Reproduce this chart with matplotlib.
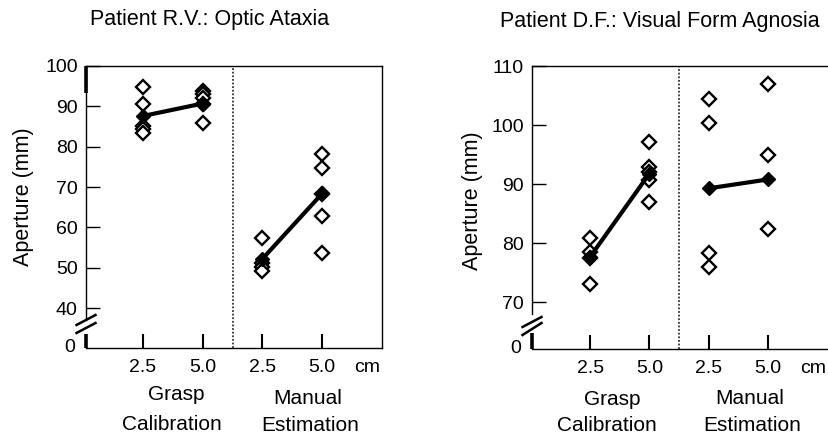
import matplotlib
matplotlib.use("Agg")
import matplotlib.pyplot as plt
from matplotlib.lines import Line2D

plt.rcParams['font.family'] = ['Liberation Sans', 'DejaVu Sans']

# x positions: grasp 2.5, grasp 5.0, manual 2.5, manual 5.0
positions = [1, 2, 3, 4]
size_labels = ["2.5", "5.0", "2.5", "5.0"]

# Patient R.V. (optic ataxia): individual trials and means
rv_grasp_25 = [94.8, 90.7, 85.1, 84.3, 83.4]
rv_grasp_50 = [93.9, 93.0, 92.1, 90.6, 85.9]
rv_manual_25 = [57.3, 51.2, 50.1, 49.1]
rv_manual_50 = [78.2, 74.8, 68.2, 62.8, 53.7]
rv_mean_grasp = [87.6, 90.7]
rv_mean_manual = [52.2, 68.4]

# Patient D.F. (visual form agnosia)
df_grasp_25 = [80.9, 78.5, 77.5, 73.1]
df_grasp_50 = [97.1, 92.9, 92.0, 90.7, 87.0]
df_manual_25 = [104.4, 100.3, 78.4, 76.0]
df_manual_50 = [106.9, 94.9, 82.4]
df_mean_grasp = [77.7, 91.8]
df_mean_manual = [89.3, 90.8]

W, H = 829, 436
fig = plt.figure(figsize=(W / 100, H / 100), dpi=100)

TICK_FS = 14
LABEL_FS = 15


def px_box(x0, y0, x1, y1):
    return [x0 / W, 1 - y1 / H, (x1 - x0) / W, (y1 - y0) / H]


def draw_panel(ax, xlim, singles, means_g, means_m, ylim, yticks, spine_top, bottom_thick, top_thick=None):
    ax.set_xlim(*xlim)
    ax.set_ylim(*ylim)
    for x, vals in zip(positions, singles):
        ax.plot([x] * len(vals), vals, linestyle="none", marker="D", ms=7.5,
                mfc="white", mec="black", mew=1.7, zorder=3)
    ax.plot(positions[:2], means_g, color="black", lw=3, marker="D", ms=7.5,
            mfc="black", mec="black", zorder=4)
    ax.plot(positions[2:], means_m, color="black", lw=3, marker="D", ms=7.5,
            mfc="black", mec="black", zorder=4)
    ax.axvline(2.5, color="#333333", lw=1.3, ls=(0, (1, 1)), zorder=1)

    ax.set_xticks(positions)
    ax.set_xticklabels([])
    ax.tick_params(axis="x", direction="in", length=10, width=1.5)
    ax.set_yticks(yticks)
    ax.set_yticklabels([str(t) for t in yticks], fontsize=TICK_FS)
    ax.tick_params(axis="y", direction="in", length=10, width=1, pad=6)
    for s in ax.spines.values():
        s.set_linewidth(1.0)
    ax.spines["left"].set_bounds(spine_top, ylim[1])
    ax.plot([xlim[0]] * 2, [ylim[0], bottom_thick], color="black", lw=2.6,
            clip_on=False, solid_capstyle="butt", zorder=5)
    if top_thick is not None:
        ax.plot([xlim[0]] * 2, [top_thick, ylim[1]], color="black", lw=2.6,
                clip_on=False, solid_capstyle="butt", zorder=5)


def draw_break(ax, y_px_pairs, ax_bottom_px, ax_w, ax_h):
    # two slanted strokes across the left spine
    for (ya, yb) in y_px_pairs:
        ax.add_line(Line2D([-9.5 / ax_w, 9.5 / ax_w],
                           [(ax_bottom_px - ya) / ax_h, (ax_bottom_px - yb) / ax_h],
                           transform=ax.transAxes, color="black", lw=1.8, clip_on=False))


# left panel
ax1 = fig.add_axes(px_box(86, 66, 382, 348))
draw_panel(ax1, (0.05, 5.0), [rv_grasp_25, rv_grasp_50, rv_manual_25, rv_manual_50],
           rv_mean_grasp, rv_mean_manual, (30.1, 100), [40, 50, 60, 70, 80, 90, 100],
           37.0, 33.6, top_thick=93.3)
draw_break(ax1, [(325, 315), (333, 323)], 348, 296, 282)

# right panel
ax2 = fig.add_axes(px_box(532, 66, 831, 349))
draw_panel(ax2, (0.02, 5.06), [df_grasp_25, df_grasp_50, df_manual_25, df_manual_50],
           df_mean_grasp, df_mean_manual, (62.1, 110), [70, 80, 90, 100, 110],
           68.0, 64.8)
draw_break(ax2, [(327, 317), (335, 323)], 349, 299, 283)


def ftext(x, y, s, **kw):
    fig.text(x / W, 1 - y / H, s, ha="center", va="center", **kw)


ftext(210, 20, "Patient R.V.: Optic Ataxia", fontsize=15.5)
ftext(660, 22, "Patient D.F.: Visual Form Agnosia", fontsize=15.5)
ftext(24, 197, "Aperture (mm)", fontsize=15.5, rotation=90)
ftext(473, 201, "Aperture (mm)", fontsize=15.5, rotation=90)

# "0" under the axis break
ftext(70, 347, "0", fontsize=TICK_FS)
ftext(516, 348, "0", fontsize=TICK_FS)

# x size labels
for ax, y_lab in [(ax1, 367), (ax2, 368)]:
    for x, lab in zip(positions, size_labels):
        px = ax.transData.transform((x, 0))[0]
        ftext(px, y_lab, lab, fontsize=TICK_FS)
ftext(367, 367, "cm", fontsize=TICK_FS)
ftext(813, 368, "cm", fontsize=TICK_FS)

ftext(176, 395, "Grasp", fontsize=LABEL_FS)
ftext(172, 424, "Calibration", fontsize=LABEL_FS)
ftext(308, 398, "Manual", fontsize=LABEL_FS)
ftext(310, 425, "Estimation", fontsize=LABEL_FS)
ftext(612, 399, "Grasp", fontsize=LABEL_FS)
ftext(607, 425, "Calibration", fontsize=LABEL_FS)
ftext(750, 398, "Manual", fontsize=LABEL_FS)
ftext(752, 425, "Estimation", fontsize=LABEL_FS)

fig.savefig("out.png", dpi=100)
